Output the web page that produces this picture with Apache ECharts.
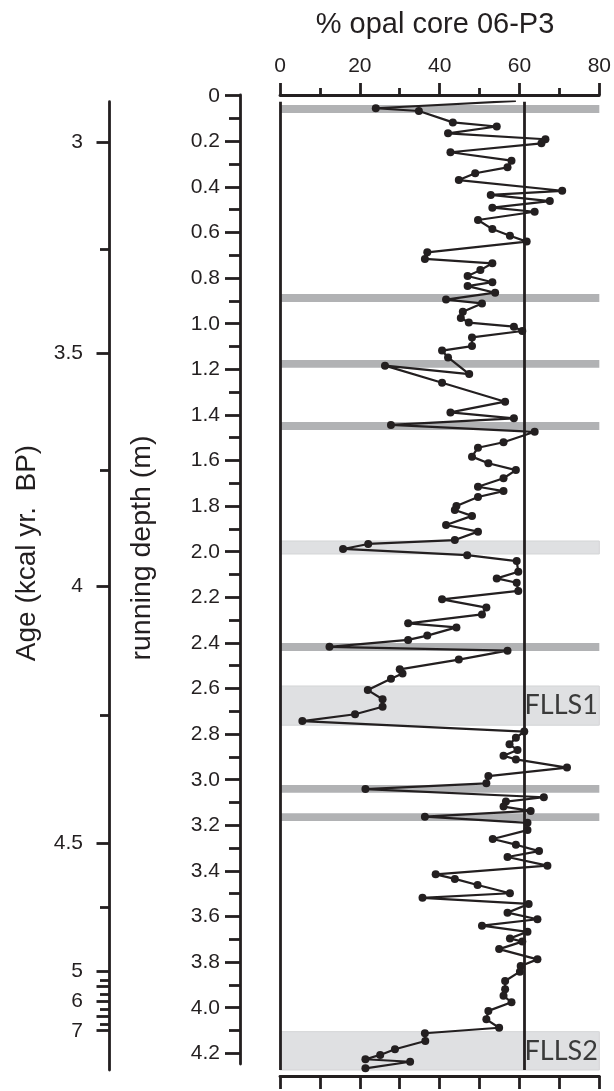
<!DOCTYPE html>
<html>
<head>
<meta charset="utf-8">
<script src="https://cdn.jsdelivr.net/npm/echarts@6/dist/echarts.min.js"></script>
<style>html,body{margin:0;padding:0;background:#fff}#c{width:614px;height:1091px}</style>
</head>
<body>
<div id="c"></div>
<script>
// % opal values and running depth (m), in line order
const opalPct = [59.1,24.0,34.8,43.3,54.3,42.1,66.5,65.5,42.7,58.0,57.0,48.9,44.8,70.7,52.8,67.6,53.2,63.8,49.6,53.2,
  57.6,61.8,36.9,36.3,53.2,50.2,47.0,53.2,47.0,53.9,41.6,50.6,45.8,45.3,47.3,58.6,60.7,48.1,48.1,40.6,
  42.1,47.4,26.3,40.6,56.4,42.7,58.6,27.8,63.8,56.0,49.6,48.1,52.2,59.1,56.0,49.6,56.0,49.6,44.2,43.8,
  48.1,41.6,49.6,43.8,22.1,15.8,46.9,59.3,59.7,54.3,59.3,59.7,40.6,51.7,50.6,32.1,44.2,36.9,32.1,12.4,
  57.0,44.8,30.0,30.7,27.8,22.0,25.7,25.7,18.8,5.6,61.2,59.1,57.5,59.5,56.0,59.1,71.9,52.2,51.7,21.4,
  66.1,56.6,56.0,62.8,36.3,62.0,62.0,53.3,59.1,64.9,57.0,67.0,39.0,43.8,49.5,57.6,35.7,62.3,57.0,64.5,
  50.6,62.0,57.6,60.7,54.9,64.5,60.3,60.1,56.4,56.4,56.0,58.0,52.2,51.7,54.9,36.3,36.4,28.8,25.1,21.4,
  32.6,21.4];
const depthM = [0.023,0.055,0.067,0.117,0.135,0.165,0.191,0.209,0.248,0.285,0.314,0.340,0.370,0.417,0.435,0.462,0.491,0.509,0.545,0.585,
  0.614,0.640,0.687,0.716,0.735,0.765,0.791,0.818,0.835,0.864,0.894,0.911,0.948,0.975,0.995,1.013,1.032,1.060,1.098,1.118,
  1.148,1.221,1.184,1.259,1.342,1.389,1.415,1.444,1.474,1.520,1.544,1.583,1.612,1.642,1.678,1.715,1.734,1.760,1.800,1.817,
  1.843,1.883,1.912,1.949,1.966,1.988,2.015,2.041,2.088,2.117,2.136,2.172,2.209,2.245,2.275,2.314,2.332,2.368,2.387,2.417,
  2.434,2.473,2.516,2.534,2.557,2.607,2.647,2.680,2.713,2.743,2.789,2.816,2.845,2.870,2.895,2.911,2.947,2.984,3.016,3.041,
  3.077,3.096,3.118,3.137,3.162,3.189,3.221,3.260,3.285,3.313,3.339,3.377,3.415,3.435,3.462,3.498,3.518,3.545,3.583,3.612,
  3.640,3.667,3.696,3.710,3.743,3.788,3.817,3.842,3.883,3.919,3.948,3.976,4.014,4.051,4.088,4.112,4.146,4.182,4.207,4.226,
  4.237,4.266];
// shaded depth intervals
const darkBands = [[0.041,0.076],[0.870,0.905],[1.159,1.193],[1.431,1.466],[2.400,2.435],[3.023,3.057],[3.147,3.181]];
const lightBands = [[1.953,2.010,''],[2.589,2.761,'FLLS1'],[4.105,4.276,'FLLS2']];
const refLines = [0, 61.2];
// tick labels
const opalTicks = [0,20,40,60,80];
const depthTickLabels = ['0','0.2','0.4','0.6','0.8','1.0','1.2','1.4','1.6','1.8','2.0','2.2','2.4','2.6','2.8','3.0','3.2','3.4','3.6','3.8','4.0','4.2'];
const ageTickLabels = ['3','3.5','4','4.5','5','6','7'];
const ageTickDepths = [0.203,1.128,2.153,3.278,3.839,3.970,4.101];
const ageLongUnlabeledDepths = [3.904,4.039];
const ageShortTickDepths = [0.672,1.641,2.716,3.558,3.878,3.940,4.005,4.071];

const INK = '#231f20';
const FONT = '"Liberation Sans", Arial, sans-serif';
const LW = 2.8;

const depthVals = depthTickLabels.map(parseFloat);
const depthMinor = depthVals.slice(0,-1).map((v,i)=> +( (v + depthVals[i+1]) / 2 ).toFixed(2));

const chart = echarts.init(document.getElementById('c'), null, {renderer:'canvas'});
const mainMin = 0.0263, mainMax = 4.2732;
const dMin = -0.0031, dMax = 4.2469;

const axLine = {show:true, onZero:false, lineStyle:{color:INK, width:LW}};
const noLine = {show:false, onZero:false};
const lbl = {color:INK, fontSize:21, fontFamily:FONT};

const bandData = [];
darkBands.forEach(b => bandData.push([
  {xAxis:0, yAxis:b[0], itemStyle:{color:'#b1b2b4'}, label:{show:false}},
  {xAxis:80, yAxis:b[1]}]));
lightBands.forEach(b => bandData.push([
  {xAxis:0, yAxis:b[0], name:b[2], itemStyle:{color:'#dfe0e2', borderColor:'#d4d5d7', borderWidth:1},
   label:{show: !!b[2]}},
  {xAxis:80, yAxis:b[1]}]));

chart.setOption({
  animation:false,
  grid:[
    {left:280, top:101.7, width:321.7, height:968.3},
    {left:240, top:95, width:10, height:969}
  ],
  xAxis:[
    {gridIndex:0, type:'value', position:'top', offset:6.7, min:0, max:80, interval:20,
     axisLine:axLine, axisTick:{show:true, length:12, lineStyle:{color:INK, width:LW}},
     minorTick:{show:true, splitNumber:2, length:7, lineStyle:{color:INK, width:LW}},
     splitLine:{show:false}, minorSplitLine:{show:false},
     axisLabel:Object.assign({margin:18, formatter:v=> opalTicks.includes(v)? String(v):''}, lbl)},
    {gridIndex:0, type:'value', position:'bottom', offset:6, min:0, max:80, interval:10,
     axisLine:axLine, axisTick:{show:true, length:13, lineStyle:{color:INK, width:LW}},
     splitLine:{show:false}, axisLabel:{show:false}},
    {gridIndex:1, type:'value', show:false, min:0, max:1, axisLine:noLine}
  ],
  yAxis:[
    {gridIndex:0, type:'value', inverse:true, min:mainMin, max:mainMax, show:false, axisLine:noLine, splitLine:{show:false}},
    {gridIndex:0, type:'value', inverse:true, min:mainMin, max:mainMax, position:'left', offset:171,
     axisLine:axLine, splitLine:{show:false},
     axisTick:{show:true, length:12.5, customValues:ageTickDepths.concat(ageLongUnlabeledDepths), lineStyle:{color:INK, width:LW}},
     axisLabel:Object.assign({margin:26, customValues:ageTickDepths,
       formatter:v=>{const i = ageTickDepths.indexOf(v); return i>=0? ageTickLabels[i]:'';}}, lbl)},
    {gridIndex:0, type:'value', inverse:true, min:mainMin, max:mainMax, position:'left', offset:171,
     axisLine:noLine, splitLine:{show:false},
     axisTick:{show:true, length:9, customValues:ageShortTickDepths, lineStyle:{color:INK, width:LW}},
     axisLabel:{show:false}},
    {gridIndex:1, type:'value', inverse:true, min:dMin, max:dMax, position:'left',
     axisLine:axLine, splitLine:{show:false},
     axisTick:{show:true, length:15, customValues:depthVals, lineStyle:{color:INK, width:LW}},
     axisLabel:Object.assign({margin:20, customValues:depthVals,
       formatter:v=>{const i = depthVals.indexOf(v); return i>=0? depthTickLabels[i]:'';}}, lbl)},
    {gridIndex:1, type:'value', inverse:true, min:dMin, max:dMax, position:'left',
     axisLine:noLine, splitLine:{show:false},
     axisTick:{show:true, length:11, customValues:depthMinor, lineStyle:{color:INK, width:LW}},
     axisLabel:{show:false}}
  ],
  series:[
    {type:'line', xAxisIndex:0, yAxisIndex:0, data:[], z:1,
     markArea:{silent:true,
       label:{position:'insideRight', distance:2, fontSize:27, color:'#3a3a3a', fontFamily:'Lato, "Open Sans", sans-serif'},
       data:bandData}},
    {type:'line', xAxisIndex:0, yAxisIndex:0, data:[], z:2,
     markLine:{silent:true, symbol:['none','none'], label:{show:false},
       lineStyle:{type:'solid', color:INK, width:LW},
       data:refLines.map(v=>({xAxis:v}))}},
    {type:'line', xAxisIndex:0, yAxisIndex:0, z:3,
     data:opalPct.map((v,i)=>[v, depthM[i]]),
     symbol:'circle', symbolSize:8, showAllSymbol:true,
     lineStyle:{color:INK, width:2.2}, itemStyle:{color:INK}}
  ],
  graphic:[
    {type:'text', x:435, y:25, style:{text:'% opal core 06-P3', fontSize:29, fontFamily:FONT, fill:INK, align:'center', verticalAlign:'middle'}},
    {type:'text', x:142, y:548, rotation:Math.PI/2, style:{text:'running depth (m)', fontSize:28.5, fontFamily:FONT, fill:INK, align:'center', verticalAlign:'middle'}},
    {type:'text', x:27, y:553, rotation:Math.PI/2, style:{text:'Age (kcal yr.  BP)', fontSize:28, fontFamily:FONT, fill:INK, align:'center', verticalAlign:'middle'}}
  ]
});
</script>
</body>
</html>
